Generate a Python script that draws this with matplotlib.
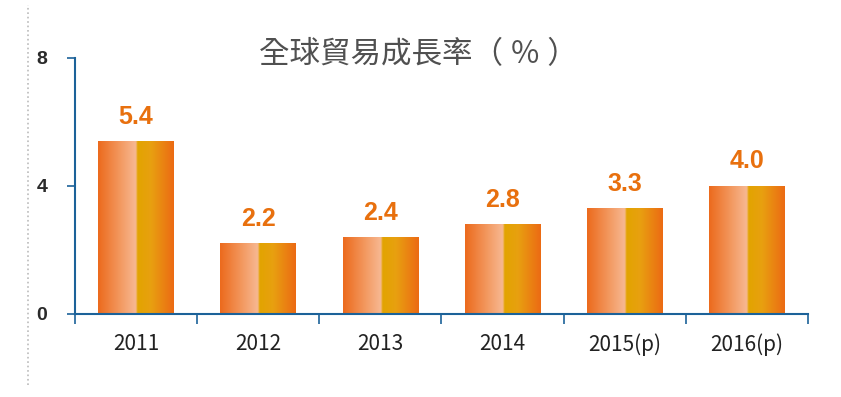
import matplotlib.pyplot as plt
import numpy as np
from matplotlib.colors import LinearSegmentedColormap

plt.rcParams['font.family'] = ['Noto Sans CJK TC', 'DejaVu Sans']

years = ['2011', '2012', '2013', '2014', '2015(p)', '2016(p)']
growth = [5.4, 2.2, 2.4, 2.8, 3.3, 4.0]
title = '全球貿易成長率（ ％ ）'

# bar gradient: orange -> peach -> gold -> orange
bar_cmap = LinearSegmentedColormap.from_list('bar', [
    (0.00, '#EC6A1C'),
    (0.30, '#F39A62'),
    (0.50, '#F7B993'),
    (0.52, '#E2A400'),
    (0.70, '#E8A010'),
    (1.00, '#EC6A14'),
])

fig = plt.figure(figsize=(8.41, 3.97), dpi=100)
ax = fig.add_axes([75 / 841, 83 / 397, 733 / 841, 256 / 397])

grad = np.linspace(0, 1, 256).reshape(1, -1)
bar_w = 0.62
for i, v in enumerate(growth):
    ax.imshow(grad, cmap=bar_cmap, aspect='auto', interpolation='bicubic',
              extent=(i - bar_w / 2, i + bar_w / 2, 0, v), zorder=2)
    ax.annotate(f'{v:.1f}', (i, v), xytext=(0, 9), textcoords='offset points',
                ha='center', va='bottom', fontsize=18, fontweight='bold',
                color='#E8700E', family='Liberation Sans')

ax.set_xlim(-0.5, len(years) - 0.5)
ax.set_ylim(0, 8)

spine_c = '#1C6299'
for s in ['top', 'right']:
    ax.spines[s].set_visible(False)
for s in ['left', 'bottom']:
    ax.spines[s].set_color(spine_c)
    ax.spines[s].set_linewidth(1.5)

ax.set_yticks([0, 4, 8])
ax.set_yticklabels(['0', '4', '8'], fontsize=14, color='#2A2A2A',
                   family='Liberation Sans', fontweight='bold')
ax.tick_params(axis='y', length=6, color=spine_c, width=1.2, pad=14)

# x ticks at category boundaries, labels centered
ax.set_xticks(np.arange(-0.5, len(years), 1))
ax.set_xticklabels([])
ax.tick_params(axis='x', which='major', length=7, color=spine_c, width=1.2,
               direction='out')
ax.set_xticks(np.arange(len(years)), minor=True)
ax.set_xticklabels(years, minor=True, fontsize=15, color='#222222')
ax.tick_params(axis='x', which='minor', length=0, pad=14)

fig.text(0.497, 0.862, title, ha='center', va='center', fontsize=22,
         color='#505050')

# faint dotted vertical line at left edge
fig.add_artist(plt.Line2D([28 / 841, 28 / 841], [12 / 397, 392 / 397],
                          transform=fig.transFigure, color='#BBBBBB',
                          linestyle=':', linewidth=1.2))

fig.savefig('out.png', dpi=100)
